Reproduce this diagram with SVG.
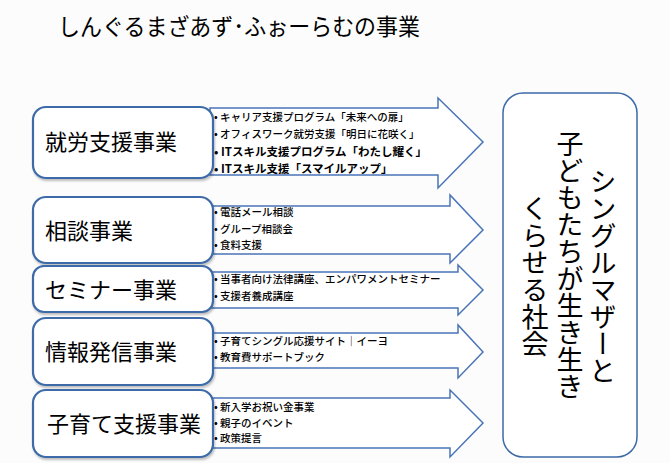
<svg xmlns="http://www.w3.org/2000/svg" width="670" height="463" viewBox="0 0 670 463">
<defs>
<style>
text{font-family:"Noto Sans CJK JP","Noto Sans",sans-serif;fill:#000}
.title{font-size:23px}
.box{fill:#fff;stroke:#3d6aa8;stroke-width:2.2}
.arrow{fill:#fff;stroke:#4a74b8;stroke-width:1.5}
.lbl{font-size:22px}
.li{font-size:10.5px;font-weight:500}
.lb{font-size:11.5px;font-weight:bold}
.vt{font-size:27px;writing-mode:vertical-rl}
</style>
<filter id="sh" x="-10%" y="-10%" width="130%" height="130%">
<feDropShadow dx="1" dy="2" stdDeviation="1.2" flood-color="#000" flood-opacity="0.25"/>
</filter>
</defs>
<rect width="670" height="463" fill="#fcfcfc"/>
<text class="title" x="58" y="35" textLength="362" lengthAdjust="spacingAndGlyphs">しんぐるまざあず･ふぉーらむの事業</text>

<g id="connectors">
<g id="arrow1">
<polygon class="arrow" points="210,108 438,108 438,98 483,142 438,188 438,175 210,175"/>
<text class="li" x="214" y="121">• キャリア支援プログラム「未来への扉」</text>
<text class="li" x="214" y="138">• オフィスワーク就労支援「明日に花咲く」</text>
<text class="lb" x="214" y="156">• ITスキル支援プログラム「わたし耀く」</text>
<text class="lb" x="214" y="173">• ITスキル支援「スマイルアップ」</text>
</g>
<g id="arrow2">
<polygon class="arrow" points="210,206 450,206 450,195 483,230 450,263 450,254 210,254"/>
<text class="li" x="214" y="216">• 電話メール相談</text>
<text class="li" x="214" y="233">• グループ相談会</text>
<text class="li" x="214" y="249">• 食料支援</text>
</g>
<g id="arrow3">
<polygon class="arrow" points="210,272 458,272 458,265 483,290 458,315 458,308 210,308"/>
<text class="li" x="214" y="283">• 当事者向け法律講座、エンパワメントセミナー</text>
<text class="li" x="214" y="300">• 支援者養成講座</text>
</g>
<g id="arrow4">
<polygon class="arrow" points="210,333 458,333 458,325 483,352 458,378 458,368 210,368"/>
<text class="li" x="214" y="345">• 子育てシングル応援サイト｜イーヨ</text>
<text class="li" x="214" y="361">• 教育費サポートブック</text>
</g>
<g id="arrow5">
<polygon class="arrow" points="210,398 450,398 450,390 483,423 450,457 450,448 210,448"/>
<text class="li" x="214" y="411">• 新入学お祝い金事業</text>
<text class="li" x="214" y="427">• 親子のイベント</text>
<text class="li" x="214" y="442">• 政策提言</text>
</g>
</g>

<g id="node1">
<rect class="box" filter="url(#sh)" x="33" y="107" width="180" height="71" rx="13"/>
<text class="lbl" x="45" y="150">就労支援事業</text>
</g>
<g id="node2">
<rect class="box" filter="url(#sh)" x="33" y="197" width="180" height="66" rx="13"/>
<text class="lbl" x="45" y="239">相談事業</text>
</g>
<g id="node3">
<rect class="box" filter="url(#sh)" x="33" y="266" width="180" height="46" rx="11"/>
<text class="lbl" x="45" y="298">セミナー事業</text>
</g>
<g id="node4">
<rect class="box" filter="url(#sh)" x="33" y="318" width="180" height="67" rx="13"/>
<text class="lbl" x="45" y="360">情報発信事業</text>
</g>
<g id="node5">
<rect class="box" filter="url(#sh)" x="33" y="390" width="180" height="67" rx="13"/>
<text class="lbl" x="47" y="432">子育て支援事業</text>
</g>

<g id="goal">
<rect x="503" y="93" width="134" height="364" rx="20" fill="#fff" stroke="#3d6aa8" stroke-width="1.5"/>
<text class="vt" x="603" y="168">シングルマザーと</text>
<text class="vt" x="570" y="130">子どもたちが生き生き</text>
<text class="vt" x="535" y="195">くらせる社会</text>
</g>
</svg>
